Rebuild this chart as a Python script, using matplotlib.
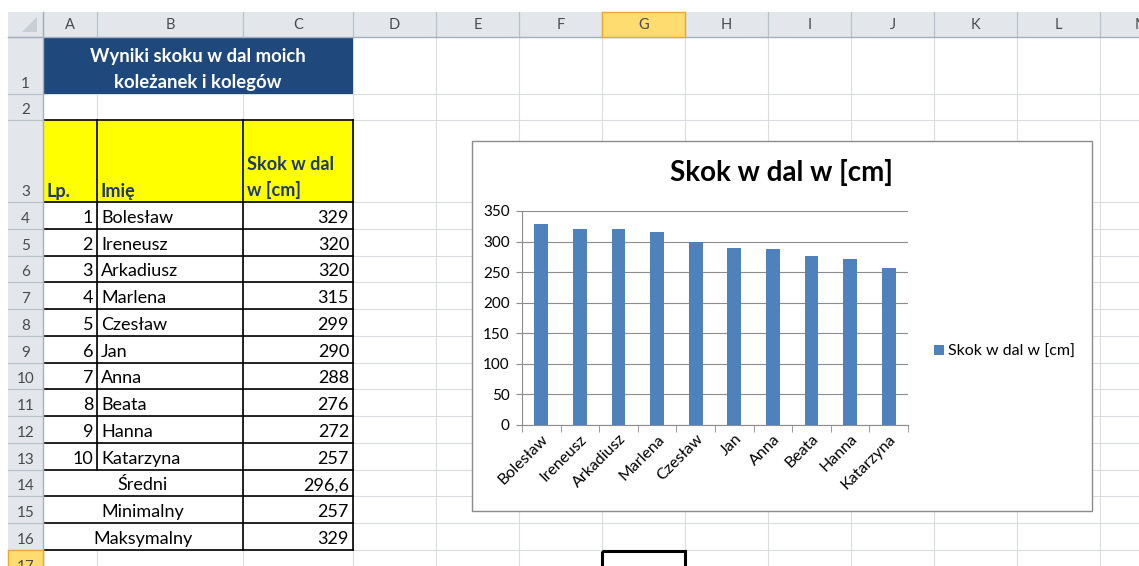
import numpy as np
import matplotlib
matplotlib.use("Agg")
import matplotlib.pyplot as plt
from matplotlib.patches import Rectangle, Polygon

plt.rcParams['font.family'] = ['Lato', 'DejaVu Sans']

# dane z arkusza
LP = list(range(1, 11))
NAMES = ["Bolesław", "Ireneusz", "Arkadiusz", "Marlena", "Czesław",
         "Jan", "Anna", "Beata", "Hanna", "Katarzyna"]
JUMPS = [329, 320, 320, 315, 299, 290, 288, 276, 272, 257]
SUMMARY_LABELS = ["Średni", "Minimalny", "Maksymalny"]
TITLE_LINES = ["Wyniki skoku w dal moich", "koleżanek i kolegów"]
HEADERS = ["Lp.", "Imię"]
HEADER_C = ["Skok w dal", "w [cm]"]
CHART_TITLE = "Skok w dal w [cm]"
COL_LETTERS = list("ABCDEFGHIJKLM")
Y_TICKS = [0, 50, 100, 150, 200, 250, 300, 350]

# uklad (piksele)
W, H = 1139, 566
COL_X = [43, 97, 243, 353, 436, 519, 602, 685, 768, 851, 934, 1017, 1100, 1183]
ROW_Y = [37, 94, 120] + [202 + 26.77 * k for k in range(15)]

BLUE = '#4F81BD'
GRID = '#DADCDF'
HDR = '#E3E7EC'
HDR_LINE = '#B9C1CB'
ROWNUM = '#4A4A4A'
NAVY = '#1F3864'


def summary_values(vals):
    mean = sum(vals) / len(vals)
    return [f"{mean:.1f}".replace(".", ","), str(min(vals)), str(max(vals))]


def draw_sheet(sh):
    sh.set_xlim(0, W)
    sh.set_ylim(H, 0)
    sh.axis('off')

    # siatka arkusza
    for x in COL_X[1:]:
        sh.plot([x, x], [ROW_Y[0], H], color=GRID, lw=0.8, zorder=1)
    for y in ROW_Y[1:]:
        sh.plot([COL_X[0], W], [y, y], color=GRID, lw=0.8, zorder=1)

    # tytul (A1:C1)
    sh.add_patch(Rectangle((COL_X[0], ROW_Y[0]), COL_X[3] - COL_X[0],
                           ROW_Y[1] - ROW_Y[0], fc='#1F497D', zorder=2))
    cx = (COL_X[0] + COL_X[3]) / 2
    sh.text(cx, ROW_Y[1] - 32, TITLE_LINES[0], color='white', fontsize=13.3,
            fontweight='bold', ha='center', va='baseline', zorder=4)
    sh.text(cx, ROW_Y[1] - 6, TITLE_LINES[1], color='white', fontsize=13.3,
            fontweight='bold', ha='center', va='baseline', zorder=4)

    # naglowek tabeli
    sh.add_patch(Rectangle((COL_X[0], ROW_Y[2]), COL_X[3] - COL_X[0],
                           ROW_Y[3] - ROW_Y[2], fc='#FFFF00', zorder=2))
    sh.text(COL_X[0] + 4, ROW_Y[3] - 5, HEADERS[0], color=NAVY, fontsize=13,
            fontweight='bold', va='baseline', zorder=4)
    sh.text(COL_X[1] + 4, ROW_Y[3] - 5, HEADERS[1], color=NAVY, fontsize=13,
            fontweight='bold', va='baseline', zorder=4)
    sh.text(COL_X[2] + 4, ROW_Y[3] - 32, HEADER_C[0], color=NAVY, fontsize=13,
            fontweight='bold', va='baseline', zorder=4)
    sh.text(COL_X[2] + 4, ROW_Y[3] - 6, HEADER_C[1], color=NAVY, fontsize=13,
            fontweight='bold', va='baseline', zorder=4)

    # wiersze z danymi
    for i, (n, name, v) in enumerate(zip(LP, NAMES, JUMPS)):
        yb = ROW_Y[4 + i] - 6
        sh.text(COL_X[1] - 4, yb, str(n), fontsize=13, ha='right', va='baseline', zorder=4)
        sh.text(COL_X[1] + 4, yb, name, fontsize=13, ha='left', va='baseline', zorder=4)
        sh.text(COL_X[3] - 4, yb, str(v), fontsize=13, ha='right', va='baseline', zorder=4)

    # podsumowanie (A:B scalone)
    sh.add_patch(Rectangle((COL_X[0], ROW_Y[13]), COL_X[2] - COL_X[0],
                           ROW_Y[16] - ROW_Y[13], fc='white', zorder=2))
    for i, (lab, val) in enumerate(zip(SUMMARY_LABELS, summary_values(JUMPS))):
        yb = ROW_Y[14 + i] - 6
        sh.text((COL_X[0] + COL_X[2]) / 2, yb, lab, fontsize=13, ha='center',
                va='baseline', zorder=4)
        sh.text(COL_X[3] - 4, yb, val, fontsize=13, ha='right', va='baseline', zorder=4)

    # obramowanie tabeli
    for y in ROW_Y[2:17]:
        sh.plot([COL_X[0], COL_X[3]], [y, y], color='black', lw=1.2, zorder=3)
    for x in (COL_X[0], COL_X[2], COL_X[3]):
        sh.plot([x, x], [ROW_Y[2], ROW_Y[16]], color='black', lw=1.2, zorder=3)
    sh.plot([COL_X[1], COL_X[1]], [ROW_Y[2], ROW_Y[13]], color='black', lw=1.2, zorder=3)

    # naglowki kolumn i wierszy
    sh.add_patch(Rectangle((8, 12), W - 8, 25, fc=HDR, ec='none', zorder=5))
    sh.add_patch(Rectangle((8, 37), 35, H - 37, fc=HDR, ec='none', zorder=5))
    sh.add_patch(Rectangle((COL_X[6], 12), COL_X[7] - COL_X[6], 25,
                           fc='#FFDC70', ec='#E9A83A', lw=1, zorder=6))
    sh.add_patch(Rectangle((8, ROW_Y[16]), 35, ROW_Y[17] - ROW_Y[16],
                           fc='#FFDC70', ec='#E9A83A', lw=1, zorder=6))
    for x in COL_X:
        sh.plot([x, x], [12, 37], color=HDR_LINE, lw=0.9, zorder=5.5)
    for y in ROW_Y:
        sh.plot([8, 43], [y, y], color=HDR_LINE, lw=0.9, zorder=5.5)
    sh.plot([8, W], [37, 37], color='#A3AFBE', lw=1, zorder=5.5)
    sh.plot([43, 43], [12, H], color='#A3AFBE', lw=1, zorder=5.5)
    sh.add_patch(Polygon([(37, 17), (37, 32), (22, 32)], fc='#C9CED5',
                         ec='none', zorder=6))

    for i, letter in enumerate(COL_LETTERS):
        sh.text((COL_X[i] + COL_X[i + 1]) / 2, 25, letter, color=ROWNUM,
                fontsize=10.5, ha='center', va='center', zorder=7)
    for r in range(17):
        sh.text(25.5, ROW_Y[r + 1] - 6, str(r + 1), color=ROWNUM, fontsize=11,
                ha='center', va='baseline', zorder=7)

    # zaznaczona komorka G17
    sh.add_patch(Rectangle((COL_X[6], ROW_Y[16] + 1), COL_X[7] - COL_X[6], 30,
                           fill=False, ec='black', lw=2.2, zorder=6))

    # ramka wykresu
    sh.add_patch(Rectangle((472, 141), 620, 370, fc='white', ec='#8C8C8C',
                           lw=1, zorder=8))
    sh.text(781, 172, CHART_TITLE, fontsize=20, fontweight='bold',
            ha='center', va='center', zorder=9)


def draw_chart(fig):
    left, right, top, bottom = 522, 908, 211, 425
    ax = fig.add_axes([left / W, 1 - bottom / H, (right - left) / W,
                       (bottom - top) / H], zorder=10)
    ax.set_facecolor('none')
    x = np.arange(len(JUMPS))
    ax.bar(x, JUMPS, width=0.36, color=BLUE, label=CHART_TITLE, zorder=3)
    ax.set_xlim(-0.5, len(JUMPS) - 0.5)
    ax.set_ylim(0, 350)
    ax.set_yticks(Y_TICKS)
    ax.yaxis.grid(True, color='#8C8C8C', lw=0.8)
    ax.set_axisbelow(True)
    for s in ('top', 'right'):
        ax.spines[s].set_visible(False)
    for s in ('left', 'bottom'):
        ax.spines[s].set_color('#8C8C8C')
        ax.spines[s].set_linewidth(0.8)
    ax.tick_params(axis='y', direction='out', length=4, color='#8C8C8C',
                   labelsize=11, pad=5)
    ax.set_xticks(x)
    ax.set_xticks(np.arange(-0.5, len(JUMPS)), minor=True)
    ax.tick_params(axis='x', which='major', length=0, pad=5, labelsize=11.5)
    ax.tick_params(axis='x', which='minor', direction='out', length=5,
                   color='#8C8C8C')
    ax.set_xticklabels(NAMES, rotation=45, ha='right', va='top',
                       rotation_mode='anchor')
    for lab in ax.get_xticklabels():
        lab.set_x(lab.get_position()[0])
    ax.legend(loc='center left', bbox_to_anchor=(934 / W, 1 - 352 / H),
              bbox_transform=fig.transFigure, frameon=False, fontsize=11.5,
              handlelength=0.6, handleheight=0.6, handletextpad=0.3,
              borderpad=0, borderaxespad=0)


def main():
    fig = plt.figure(figsize=(W / 100, H / 100), dpi=100)
    sh = fig.add_axes([0, 0, 1, 1])
    draw_sheet(sh)
    draw_chart(fig)
    fig.savefig("out.png", dpi=100, facecolor='white')
    plt.close(fig)


if __name__ == "__main__":
    main()
